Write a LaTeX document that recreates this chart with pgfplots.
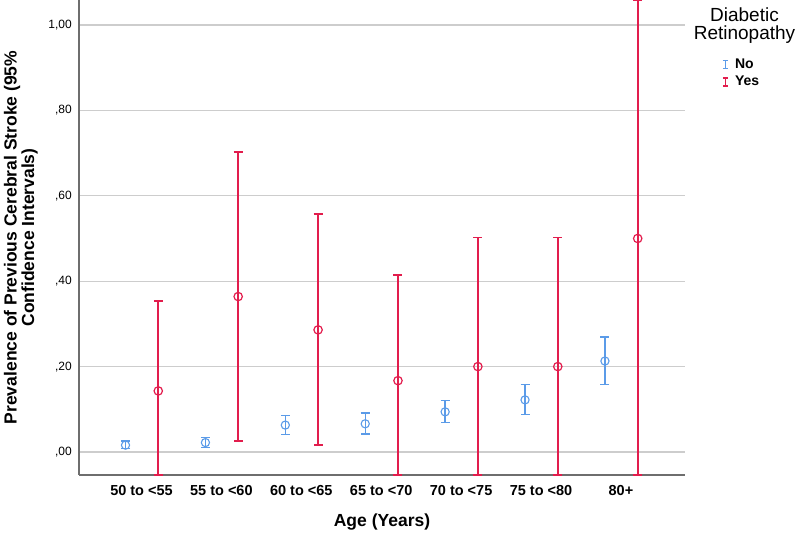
\documentclass[border=0pt]{standalone}
\usepackage{pgfplots}
\pgfplotsset{compat=1.18}
\usepackage{pgfplotstable}
\usepackage{fontspec}
\setmainfont{Liberation Sans}
\definecolor{noblue}{RGB}{91,155,232}
\definecolor{yesred}{RGB}{226,29,77}
\definecolor{gridgray}{RGB}{205,205,205}
\definecolor{axgray}{RGB}{110,110,110}
\pgfplotsset{ibar legend/.style={legend image code/.code={\draw[##1] (0pt,-4pt)--(0pt,4pt) (-2.5pt,-4pt)--(2.5pt,-4pt) (-2.5pt,4pt)--(2.5pt,4pt); \path (-3pt,0pt) (7pt,0pt);}}}

% x: category index, y: prevalence, ep/em: distance to upper/lower CI (truncated at the axis edges)
\pgfplotstableread{
x     y      ep     em
-0.20 0.016  0.010  0.008
0.80  0.022  0.012  0.012
1.80  0.063  0.022  0.022
2.80  0.066  0.025  0.024
3.80  0.094  0.027  0.025
4.80  0.122  0.036  0.034
5.80  0.213  0.056  0.055
}\datano
\pgfplotstableread{
x     y      ep     em
0.21  0.143  0.210  0.1969
1.21  0.364  0.339  0.338
2.21  0.286  0.271  0.270
3.21  0.167  0.247  0.2209
4.21  0.200  0.302  0.2539
5.21  0.200  0.302  0.2539
6.21  0.500  0.5585 0.5539
}\datayes

\begin{document}
\begin{tikzpicture}[x=1pt,y=1pt]
\useasboundingbox (0,0) rectangle (798,535);
\begin{axis}[
  at={(79pt,60pt)}, anchor=south west,
  scale only axis, width=606pt, height=475pt,
  xmin=-0.782, xmax=6.802,
  ymin=-0.0539, ymax=1.0585,
  clip=false,
  axis lines*=left,
  axis line style={draw=axgray, line width=1.3pt, -},
  xtick={0,1,2,3,4,5,6},
  xticklabels={50 to <55,55 to <60,60 to <65,65 to <70,70 to <75,75 to <80,80+},
  ytick={0,0.2,0.4,0.6,0.8,1.0},
  yticklabels={{,00},{,20},{,40},{,60},{,80},{1,00}},
  major tick length=0pt,
  ymajorgrids,
  grid style={draw=gridgray, line width=1.2pt},
  xticklabel style={font=\bfseries\fontsize{14.5}{16}\selectfont, anchor=north, inner sep=0pt, yshift=-10pt},
  yticklabel style={font=\fontsize{12}{14}\selectfont, anchor=east, inner sep=0pt, xshift=-7pt},
  xlabel={Age (Years)},
  xlabel style={font=\bfseries\fontsize{17.5}{20}\selectfont, at={(axis description cs:0.5,-0.1)}, anchor=center},
  ylabel={Prevalence of Previous Cerebral Stroke (95\%\\Confidence Intervals)},
  ylabel style={font=\bfseries\fontsize{17.5}{17.5}\selectfont, align=center, at={(axis description cs:-0.096,0.5)}, anchor=center, rotate=0},
  legend style={draw=none, fill=none, inner sep=0pt, row sep=2pt,
    font=\bfseries\fontsize{14}{16}\selectfont,
    at={(rel axis cs:1.06,0.88)}, anchor=north west},
  legend cell align=left,
]
\addlegendimage{noblue, line width=1.1pt, ibar legend}
\addlegendentry{No}
\addlegendimage{yesred, line width=1.5pt, ibar legend}
\addlegendentry{Yes}

\addplot[forget plot, only marks, mark=o, mark size=4.1pt, mark options={draw=noblue, line width=1.1pt},
  error bars/.cd, y dir=both, y explicit,
  error bar style={draw=noblue, line width=1.3pt},
  error mark options={draw=noblue, line width=1.3pt, mark size=4.5pt, rotate=90}]
  table[x=x, y=y, y error plus=ep, y error minus=em]{\datano};
\addplot[forget plot, only marks, mark=o, mark size=4.2pt, mark options={draw=yesred, line width=1.2pt},
  error bars/.cd, y dir=both, y explicit,
  error bar style={draw=yesred, line width=1.7pt},
  error mark options={draw=yesred, line width=1.6pt, mark size=4.5pt, rotate=90}]
  table[x=x, y=y, y error plus=ep, y error minus=em]{\datayes};
\end{axis}
\node[font=\fontsize{19}{18}\selectfont, align=center] at (744.5,509) {Diabetic\\Retinopathy};
\end{tikzpicture}
\end{document}
